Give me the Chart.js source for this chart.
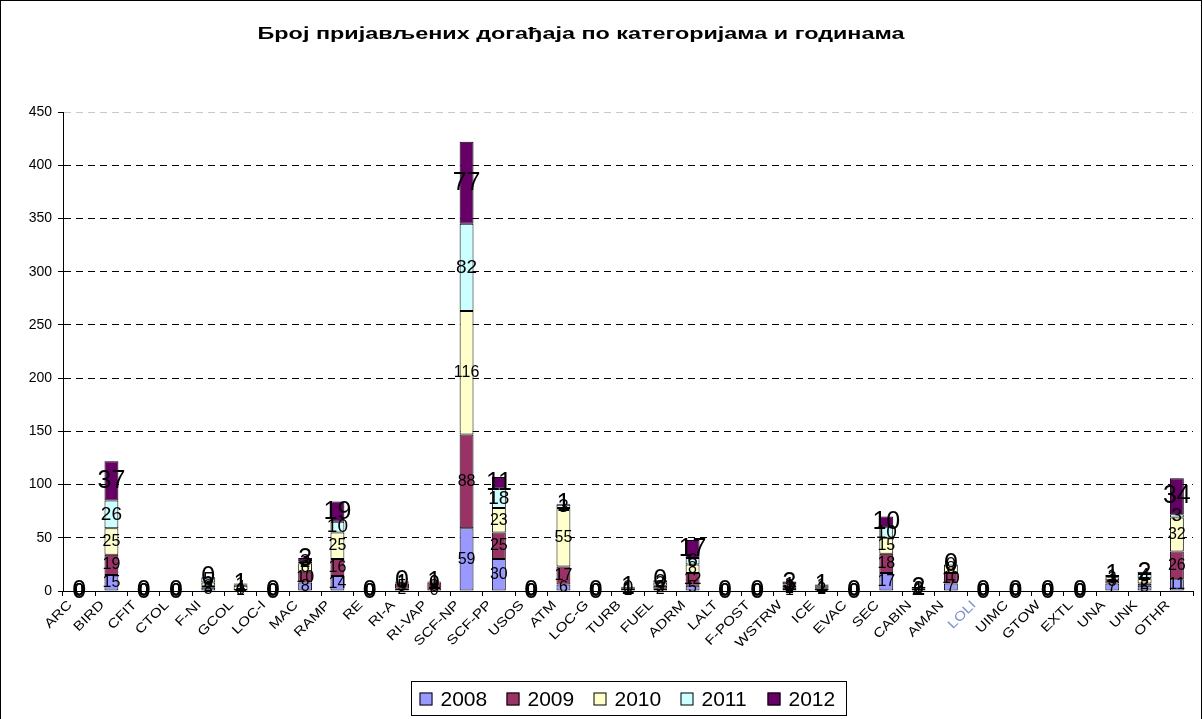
<!DOCTYPE html>
<html><head><meta charset="utf-8">
<script src="https://cdn.jsdelivr.net/npm/chart.js@4/dist/chart.umd.min.js"></script>
<style>html,body{margin:0;padding:0;background:#fff}canvas{display:block}</style>
</head><body>
<canvas id="c" width="1203" height="719"></canvas>
<script>
const title = "Број пријављених догађаја по категоријама и годинама";
const categories = ["ARC","BIRD","CFIT","CTOL","F-NI","GCOL","LOC-I","MAC","RAMP","RE","RI-A","RI-VAP","SCF-NP","SCF-PP","USOS","ATM","LOC-G","TURB","FUEL","ADRM","LALT","F-POST","WSTRW","ICE","EVAC","SEC","CABIN","AMAN","LOLI","UIMC","GTOW","EXTL","UNA","UNK","OTHR"];
const years = ["2008","2009","2010","2011","2012"];
const v2008 = [0,15,0,0,3,0,0,8,14,0,2,0,59,30,0,6,0,1,2,5,0,0,1,2,0,17,1,7,0,0,0,0,7,5,11];
const v2009 = [0,19,0,0,2,1,0,10,16,0,5,8,88,25,0,17,0,1,3,12,0,0,2,1,0,18,1,10,0,0,0,0,3,2,26];
const v2010 = [0,25,0,0,3,4,0,8,25,0,1,0,116,23,0,55,0,1,3,8,0,0,2,1,0,15,0,8,0,0,0,0,3,5,32];
const v2011 = [0,26,0,0,5,1,0,2,10,0,1,0,82,18,0,3,0,0,2,6,0,0,1,1,0,10,0,0,0,0,0,0,1,4,3];
const v2012 = [0,37,0,0,0,1,0,3,19,0,0,1,77,11,0,1,0,1,0,17,0,0,3,1,0,10,2,0,0,0,0,0,1,2,34];
const yTicks = [0,50,100,150,200,250,300,350,400,450];
const colors = ["#9999FF","#993366","#FFFFCC","#CCFFFF","#660066"];
const labelSizes = [16,16,16,19,25];

const series = [v2008,v2009,v2010,v2011,v2012];
const FONT = "Liberation Sans, Arial, sans-serif";

const labelPlugin = {
  id:'segLabels',
  afterDatasetsDraw(chart){
    const ctx = chart.ctx;
    ctx.save();
    ctx.fillStyle = '#000';
    ctx.textAlign = 'center';
    ctx.textBaseline = 'middle';
    chart.data.datasets.forEach((ds,i)=>{
      const meta = chart.getDatasetMeta(i);
      ctx.font = labelSizes[i] + 'px ' + FONT;
      meta.data.forEach((el,j)=>{
        const y = (el.y + el.base)/2;
        ctx.fillText(String(ds.data[j]), el.x, y);
      });
    });
    ctx.restore();
  }
};

const xLabelPlugin = {
  id:'xLabels',
  afterDraw(chart){
    const ctx = chart.ctx;
    const xs = chart.scales.x;
    ctx.save();
    ctx.font = '13px ' + FONT;
    ctx.textAlign = 'right';
    ctx.textBaseline = 'middle';
    chart.data.labels.forEach((lab,i)=>{
      const cx = xs.getPixelForValue(i);
      ctx.save();
      ctx.fillStyle = lab === 'LOLI' ? '#7d93c9' : '#000';
      ctx.translate(cx - 9, xs.top + 12);
      ctx.rotate(-Math.PI/4);
      ctx.scale(1.2, 1);
      ctx.fillText(lab, 0, 0);
      ctx.restore();
    });
    ctx.restore();
  }
};

const framePlugin = {
  id:'frame',
  beforeDraw(chart){
    const ctx = chart.ctx;
    ctx.save();
    ctx.fillStyle='#fff';
    ctx.fillRect(0,0,chart.width,chart.height);
    ctx.restore();
  },
  afterDraw(chart){
    const ctx = chart.ctx;
    const ca = chart.chartArea;
    ctx.save();
    ctx.strokeStyle = '#000';
    ctx.lineWidth = 1;
    ctx.strokeRect(0.5,0.5,1201,730);
    ctx.fillStyle='#000';
    ctx.font = 'bold 17px ' + FONT;
    ctx.textAlign='center';
    ctx.textBaseline='middle';
    const w = ctx.measureText(title).width;
    const sx = 647 / w;
    ctx.save();
    ctx.translate(581, 34);
    ctx.scale(sx, 1);
    ctx.fillText(title, 0, 0);
    ctx.restore();
    ctx.font = '21px ' + FONT;
    const boxW = 435, boxH = 34;
    const cx = (ca.left+ca.right)/2;
    const bx = Math.round(cx - boxW/2)+0.5, by = 681.5;
    ctx.strokeRect(bx,by,boxW,boxH);
    ctx.textAlign='left';
    let x = bx + 8;
    years.forEach((y,i)=>{
      ctx.fillStyle = colors[i];
      ctx.fillRect(x, by+boxH/2-6, 13, 13);
      ctx.strokeRect(x+0.5, by+boxH/2-5.5, 12, 12);
      ctx.fillStyle='#000';
      ctx.fillText(y, x+21, by+boxH/2+2);
      x += 87;
    });
    ctx.restore();
  }
};

new Chart(document.getElementById('c'), {
  type:'bar',
  data:{
    labels: categories,
    datasets: years.map((y,i)=>({
      label:y, data: series[i], backgroundColor: colors[i],
      borderColor:'#000', borderWidth:1, borderSkipped:false,
      barPercentage:0.43, categoryPercentage:1.0
    }))
  },
  options:{
    responsive:false, animation:false, devicePixelRatio:1,
    layout:{padding:{left:0,right:10,top:112,bottom:0}},
    plugins:{legend:{display:false}, title:{display:false}, tooltip:{enabled:false}},
    scales:{
      x:{
        stacked:true,
        afterFit(s){ s.height = 128; },
        grid:{display:true, drawOnChartArea:false, drawTicks:true, tickLength:5, color:'#000', offset:true},
        border:{display:true, color:'#000', width:1},
        ticks:{autoSkip:false, maxRotation:0, minRotation:0, color:'rgba(0,0,0,0)', font:{family:FONT, size:1}}
      },
      y:{
        stacked:true, min:0, max:450,
        afterFit(s){ s.width = 63; },
        afterBuildTicks(s){ s.ticks = yTicks.map(v=>({value:v})); },
        grid:{display:true, color:(c)=> (c.tick && c.tick.value===450) ? '#c8c8c8' : '#000', tickColor:'#000', tickBorderDash:[], tickLength:5, drawTicks:true},
        border:{display:true, color:'#000', width:1, dash:[7,5]},
        ticks:{color:'#000', font:{family:FONT, size:14}, padding:6}
      }
    }
  },
  plugins:[framePlugin, labelPlugin, xLabelPlugin]
});
</script>
</body></html>
